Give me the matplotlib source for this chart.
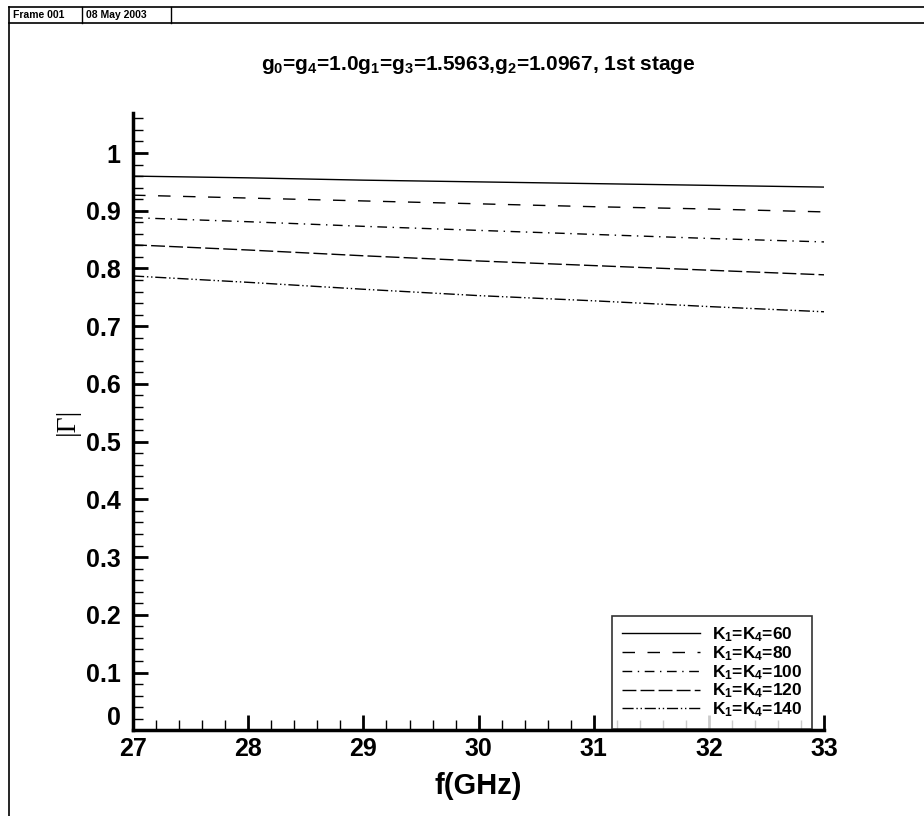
import matplotlib.pyplot as plt
from matplotlib.lines import Line2D
from matplotlib.ticker import MultipleLocator

plt.rcParams['font.family'] = ['Liberation Sans', 'DejaVu Sans']
plt.rcParams['font.weight'] = 'bold'
plt.rcParams['mathtext.fontset'] = 'custom'
plt.rcParams['mathtext.rm'] = 'Liberation Sans:bold'
plt.rcParams['mathtext.it'] = 'Liberation Sans:bold'
plt.rcParams['mathtext.bf'] = 'Liberation Sans:bold'

# data
freq = [27, 28, 29, 30, 31, 32, 33]
gamma_60 = [0.960, 0.957, 0.953, 0.950, 0.947, 0.944, 0.941]
gamma_80 = [0.927, 0.922, 0.917, 0.912, 0.907, 0.903, 0.898]
gamma_100 = [0.888, 0.881, 0.873, 0.866, 0.859, 0.852, 0.846]
gamma_120 = [0.841, 0.832, 0.822, 0.813, 0.805, 0.797, 0.789]
gamma_140 = [0.787, 0.776, 0.764, 0.753, 0.744, 0.734, 0.725]
labels = ['K$_1$=K$_4$=60', 'K$_1$=K$_4$=80', 'K$_1$=K$_4$=100',
          'K$_1$=K$_4$=120', 'K$_1$=K$_4$=140']
yticks = [0, 0.1, 0.2, 0.3, 0.4, 0.5, 0.6, 0.7, 0.8, 0.9, 1.0]
ytick_labels = ['0', '0.1', '0.2', '0.3', '0.4', '0.5', '0.6', '0.7', '0.8', '0.9', '1']

fig = plt.figure(figsize=(9.24, 8.16), dpi=100)
ax = fig.add_axes([0.144, 0.105, 0.748, 0.757])

styles = ['-', (0, (9, 9)), (0, (7, 4, 1, 4)), (0, (10, 3, 10, 3)), (0, (8, 2, 1, 2, 1, 2))]
series = [gamma_60, gamma_80, gamma_100, gamma_120, gamma_140]
for vals, ls, lab in zip(series, styles, labels):
    ax.plot(freq, vals, color='black', linewidth=1.0, linestyle=ls, label=lab)

ax.set_xlim(27, 33)
ax.set_ylim(0, 1.07)
ax.xaxis.set_major_locator(MultipleLocator(1))
ax.xaxis.set_minor_locator(MultipleLocator(0.2))
ax.yaxis.set_minor_locator(MultipleLocator(0.02))
ax.set_yticks(yticks)
ax.set_yticklabels(ytick_labels)
ax.tick_params(which='major', direction='in', length=11, width=2, labelsize=18)
ax.tick_params(axis='y', which='major', pad=9)
ax.tick_params(axis='x', which='major', pad=5)
ax.tick_params(which='minor', direction='in', length=7, width=1)
for s in ['top', 'right']:
    ax.spines[s].set_visible(False)
for s in ['left', 'bottom']:
    ax.spines[s].set_linewidth(2.5)
for lbl in ax.get_xticklabels() + ax.get_yticklabels():
    lbl.set_fontweight('bold')
# the "0" sits just above the x axis in the original
ax.get_yticklabels()[0].set_va('bottom')

ax.set_xlabel('f(GHz)', fontsize=21, fontweight='bold', labelpad=8)
ax.set_ylabel('|Γ|', fontsize=20, fontweight='normal', family='Liberation Serif', labelpad=4)
ax.set_title('g$_0$=g$_4$=1.0g$_1$=g$_3$=1.5963,g$_2$=1.0967, 1st stage',
             fontsize=15, fontweight='bold', pad=31)

leg = ax.legend(loc='lower right', bbox_to_anchor=(0.985, 0.0), fontsize=12.5,
                frameon=True, fancybox=False, edgecolor='black', handlelength=4.5,
                labelspacing=0.0, borderpad=0.55, handletextpad=0.7, borderaxespad=0.1)
leg.get_frame().set_linewidth(1.2)

# outer frame and header boxes
fig.add_artist(Line2D([0.0097, 0.0097], [0, 0.992], color='black', lw=1.2))
fig.add_artist(Line2D([0.0097, 1.0], [0.992, 0.992], color='black', lw=1.2))
fig.add_artist(Line2D([0.0097, 1.0], [0.972, 0.972], color='black', lw=1.2))
fig.add_artist(Line2D([0.0887, 0.0887], [0.972, 0.992], color='black', lw=1.0))
fig.add_artist(Line2D([0.185, 0.185], [0.972, 0.992], color='black', lw=1.0))
fig.text(0.014, 0.982, 'Frame 001', fontsize=7.5, fontweight='bold', va='center')
fig.text(0.093, 0.982, '08 May 2003', fontsize=7.5, fontweight='bold', va='center')

fig.savefig('out.png', dpi=100)
